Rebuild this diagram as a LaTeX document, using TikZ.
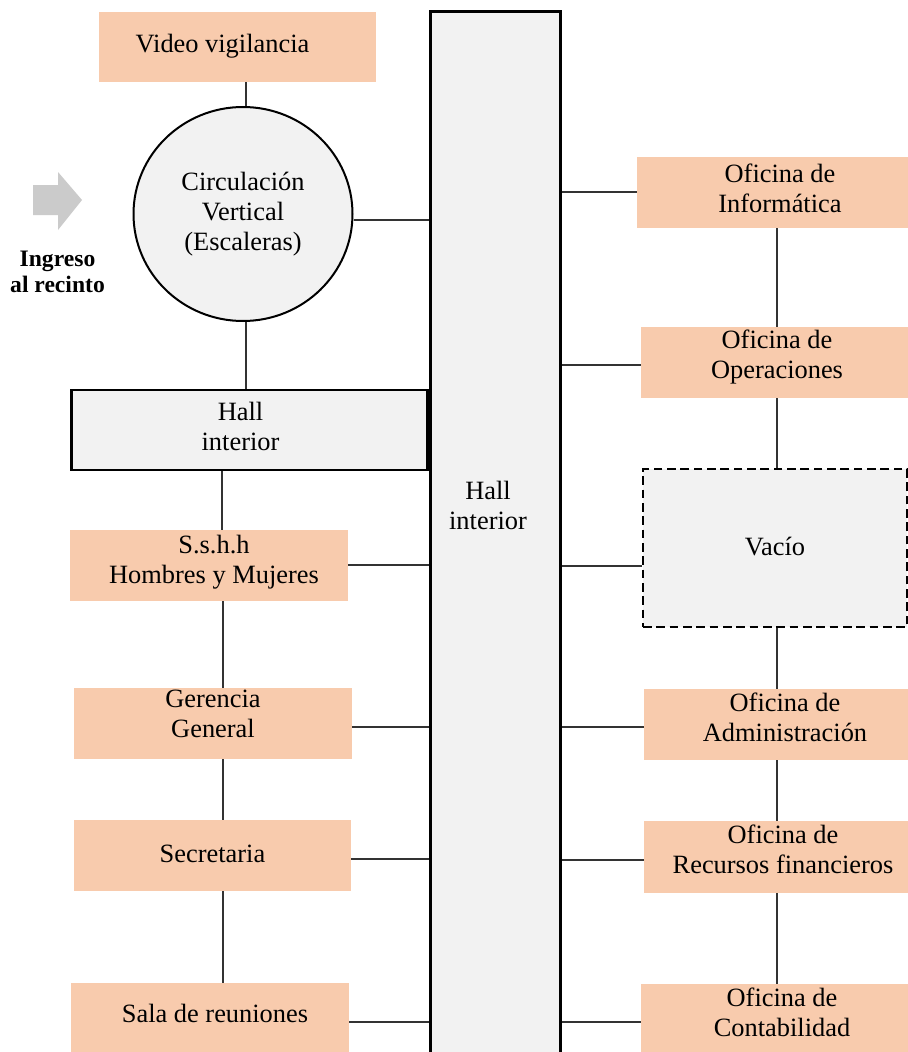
\documentclass[tikz,border=0pt]{standalone}
\usepackage{fontspec}
\setmainfont{Liberation Serif}
\usetikzlibrary{shapes.geometric}
\definecolor{peach}{HTML}{F8CBAD}
\definecolor{lgray}{HTML}{F2F2F2}
\definecolor{ln}{HTML}{333333}
\definecolor{arrowgray}{HTML}{CBCBCB}
\begin{document}
\begin{tikzpicture}[x=0.75pt,y=-0.75pt,
  sz/.style 2 args={minimum width=#1*0.75pt, minimum height=#2*0.75pt},
  txt/.style={align=center, inner sep=0pt, text=black, font=\fontsize{19.8}{22.5}\selectfont},
  room/.style={inner sep=0pt, fill=peach, draw=none},
  hallbox/.style={inner sep=0pt, fill=lgray, draw=black, line width=2pt},
  voidbox/.style={inner sep=0pt, fill=lgray, draw=black, line width=2.1pt, dash pattern=on 6.5pt off 3.5pt},
  conn/.style={draw=ln, line width=0.85pt}]
\useasboundingbox (0,0) rectangle (907,1052);

% central column
\node[hallbox, sz={130}{1070}, anchor=north west] (col) at (429,10) {};
\node[txt] (coltxt) at (488,505) {Hall\\interior};

% entrance arrow
\fill[arrowgray] (33,185) -- (58,185) -- (58,172) -- (82,200) -- (58,230) -- (58,215) -- (33,215) -- cycle;
\node[txt, font=\bfseries\fontsize{17.7}{20}\selectfont] (ing) at (57.5,272) {Ingreso\\al recinto};

% left side boxes
\node[room, sz={277}{70}] (vid) at (237.5,47) {};
\node[ellipse, draw=black, line width=1.5pt, fill=lgray, txt, sz={219}{214}] (circ) at (243,214) {Circulación\\Vertical\\(Escaleras)};
\node[hallbox, sz={356}{80}] (hall) at (249.5,430) {};
\node[room, sz={278}{71}] (ssh) at (209,565.5) {};
\node[room, sz={278}{71}] (ger) at (213,723.5) {};
\node[room, sz={277}{71}] (sec) at (212.5,855.5) {};
\node[room, sz={278}{71}] (sala) at (210,1018.5) {};

% right side boxes
\node[room, sz={286}{71}] (inf) at (780,192.5) {};
\node[room, sz={272}{71}] (ope) at (777,362.5) {};
\node[voidbox, sz={264}{158}] (vac) at (775,548) {};
\node[room, sz={282}{71}] (adm) at (785,724.5) {};
\node[room, sz={278}{72}] (rec) at (783,857) {};
\node[room, sz={282}{71}] (con) at (782,1019.5) {};

% box texts
\node[txt] (vid-t) at (222.5,46) {Video vigilancia};
\node[txt] (hall-t) at (240.5,426) {Hall\\interior};
\node[txt] (ssh-t) at (214,562.5) {S.s.h.h\\Hombres y Mujeres};
\node[txt] (ger-t) at (213,714) {Gerencia\\General};
\node[txt] (sec-t) at (212.5,853.5) {Secretaria};
\node[txt] (sala-t) at (215,1013.5) {Sala de reuniones};
\node[txt] (inf-t) at (780,188) {Oficina de\\Informática};
\node[txt] (ope-t) at (777,357.5) {Oficina de\\Operaciones};
\node[txt] (vac-t) at (775,547) {Vacío};
\node[txt] (adm-t) at (785,717.5) {Oficina de\\Administración};
\node[txt] (rec-t) at (783,849.5) {Oficina de\\Recursos financieros};
\node[txt] (con-t) at (782,1012) {Oficina de\\Contabilidad};

% helper coordinates
\coordinate (lxa) at (246,0);
\coordinate (lxb) at (222,0);
\coordinate (lxc) at (223,0);
\coordinate (rx) at (777,0);
\coordinate (ycirc) at (0,220);
\coordinate (yssh) at (0,565);
\coordinate (yger) at (0,727);
\coordinate (ysec) at (0,859);
\coordinate (ysala) at (0,1022);
\coordinate (yinf) at (0,192);
\coordinate (yope) at (0,365);
\coordinate (yvac) at (0,566);
\coordinate (yadm) at (0,727);
\coordinate (yrec) at (0,860);
\coordinate (ycon) at (0,1022);
\coordinate (rgap) at (562,0);

% left vertical connectors
\draw[conn] (vid.south -| lxa) -- (circ.north -| lxa);
\draw[conn] (circ.south -| lxa) -- (hall.north -| lxa);
\draw[conn] (hall.south -| lxb) -- (ssh.north -| lxb);
\draw[conn] (ssh.south -| lxc) -- (ger.north -| lxc);
\draw[conn] (ger.south -| lxc) -- (sec.north -| lxc);
\draw[conn] (sec.south -| lxc) -- (sala.north -| lxc);

% left horizontal connectors
\draw[conn] (circ.east |- ycirc) -- (col.west |- ycirc);
\draw[conn] (ssh.east |- yssh) -- (col.west |- yssh);
\draw[conn] (ger.east |- yger) -- (col.west |- yger);
\draw[conn] (sec.east |- ysec) -- (col.west |- ysec);
\draw[conn] (sala.east |- ysala) -- (col.west |- ysala);

% right vertical connectors
\draw[conn] (inf.south -| rx) -- (ope.north -| rx);
\draw[conn] (ope.south -| rx) -- (vac.north -| rx);
\draw[conn] (vac.south -| rx) -- (adm.north -| rx);
\draw[conn] (adm.south -| rx) -- (rec.north -| rx);
\draw[conn] (rec.south -| rx) -- (con.north -| rx);

% right horizontal connectors
\draw[conn] (col.east |- yinf) -- (inf.west |- yinf);
\draw[conn] (col.east |- yope) -- (ope.west |- yope);
\draw[conn] (col.east |- yvac) -- (vac.west |- yvac);
\draw[conn] (rgap |- yadm) -- (adm.west |- yadm);
\draw[conn] (rgap |- yrec) -- (rec.west |- yrec);
\draw[conn] (col.east |- ycon) -- (con.west |- ycon);
\end{tikzpicture}
\end{document}
